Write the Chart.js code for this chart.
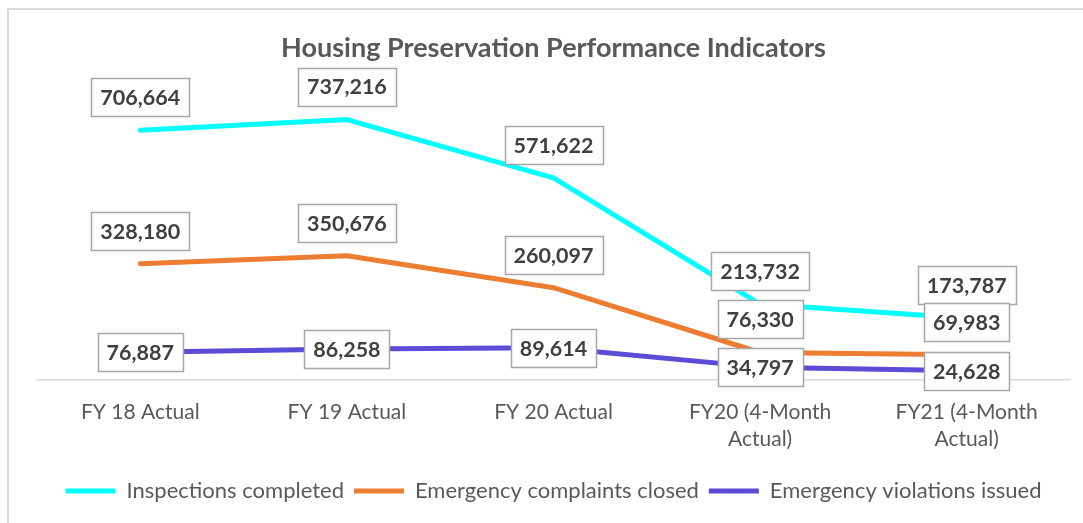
<!DOCTYPE html>
<html>
<head>
<meta charset="utf-8">
<script src="https://cdn.jsdelivr.net/npm/chart.js@4.4.1/dist/chart.umd.min.js"></script>
<style>
  html, body { margin: 0; padding: 0; background: #fff; }
  #wrap { position: relative; width: 1083px; height: 523px; overflow: hidden; }
  #frame { position: absolute; left: 7px; top: 8px; width: 1100px; height: 540px;
           border-top: 2px solid #d9d9d9; border-left: 2px solid #d9d9d9; }
  canvas { position: absolute; left: 0; top: 0; }
</style>
</head>
<body>
<div id="wrap">
  <div id="frame"></div>
  <canvas id="chart" width="1083" height="523"></canvas>
</div>
<script>
// ── DATA ──────────────────────────────────────────
const categories  = [['FY 18 Actual'], ['FY 19 Actual'], ['FY 20 Actual'], ['FY20 (4-Month', 'Actual)'], ['FY21 (4-Month', 'Actual)']];
const inspections = [706664, 737216, 571622, 213732, 173787];
const complaints  = [328180, 350676, 260097, 76330, 69983];
const violations  = [76887, 86258, 89614, 34797, 24628];

const FONT = 'Lato, "Open Sans", sans-serif';

// ── Boxed data labels (no datalabels plugin offline) ──
const boxLabels = {
  id: 'boxLabels',
  afterDatasetsDraw(chart) {
    const ctx = chart.ctx;
    ctx.save();
    ctx.font = 'bold 21.5px ' + FONT;
    ctx.textAlign = 'center';
    ctx.textBaseline = 'middle';
    chart.data.datasets.forEach((ds, i) => {
      const meta = chart.getDatasetMeta(i);
      meta.data.forEach((pt, j) => {
        const txt = ds.data[j].toLocaleString('en-US');
        const w = Math.round(ctx.measureText(txt).width + 18);
        const h = 38;
        const cy = ds.labelPos === 'above' ? pt.y - 33 : pt.y;
        const x0 = Math.round(pt.x - w / 2) + 0.5, y0 = Math.round(cy - h / 2) + 0.5;
        ctx.fillStyle = '#fff';
        ctx.fillRect(x0, y0, w, h);
        ctx.strokeStyle = '#a6a6a6';
        ctx.lineWidth = 1.5;
        ctx.strokeRect(x0, y0, w, h);
        ctx.fillStyle = '#404040';
        ctx.fillText(txt, pt.x, cy + 1);
      });
    });
    ctx.restore();
  }
};

new Chart(document.getElementById('chart'), {
  type: 'line',
  data: {
    labels: categories,
    datasets: [
      { label: 'Inspections completed',        data: inspections, borderColor: '#00ffff', backgroundColor: '#00ffff', labelPos: 'above' },
      { label: 'Emergency complaints closed',  data: complaints,  borderColor: '#ed7d31', backgroundColor: '#ed7d31', labelPos: 'above' },
      { label: 'Emergency violations issued',  data: violations,  borderColor: '#5b4bd6', backgroundColor: '#5b4bd6', labelPos: 'center' },
    ].map(d => ({ ...d, borderWidth: 5, borderCapStyle: 'round', borderJoinStyle: 'round', pointRadius: 0, tension: 0 }))
  },
  options: {
    responsive: false,
    devicePixelRatio: 1,
    animation: false,
    layout: { padding: { left: 37, right: 13, top: 0, bottom: 11 } },
    scales: {
      x: {
        offset: true,
        grid: { display: false },
        border: { color: '#d9d9d9', width: 1.5 },
        ticks: { color: '#595959', font: { family: FONT, size: 21, lineHeight: 1.3 }, padding: 11, maxRotation: 0 },
        afterFit: s => { s.height += 6; }
      },
      y: { display: false, min: 0, max: 800000 }
    },
    plugins: {
      title: {
        display: true,
        text: 'Housing Preservation Performance Indicators',
        color: '#595959',
        font: { family: FONT, size: 27, weight: 'bold', lineHeight: 1.2 },
        padding: { top: 32, bottom: 33 }
      },
      legend: {
        position: 'bottom',
        labels: {
          usePointStyle: true, pointStyle: 'line', pointStyleWidth: 50,
          color: '#595959', font: { family: FONT, size: 22 }, padding: 10
        }
      },
      tooltip: { enabled: false }
    }
  },
  plugins: [boxLabels]
});
</script>
</body>
</html>
